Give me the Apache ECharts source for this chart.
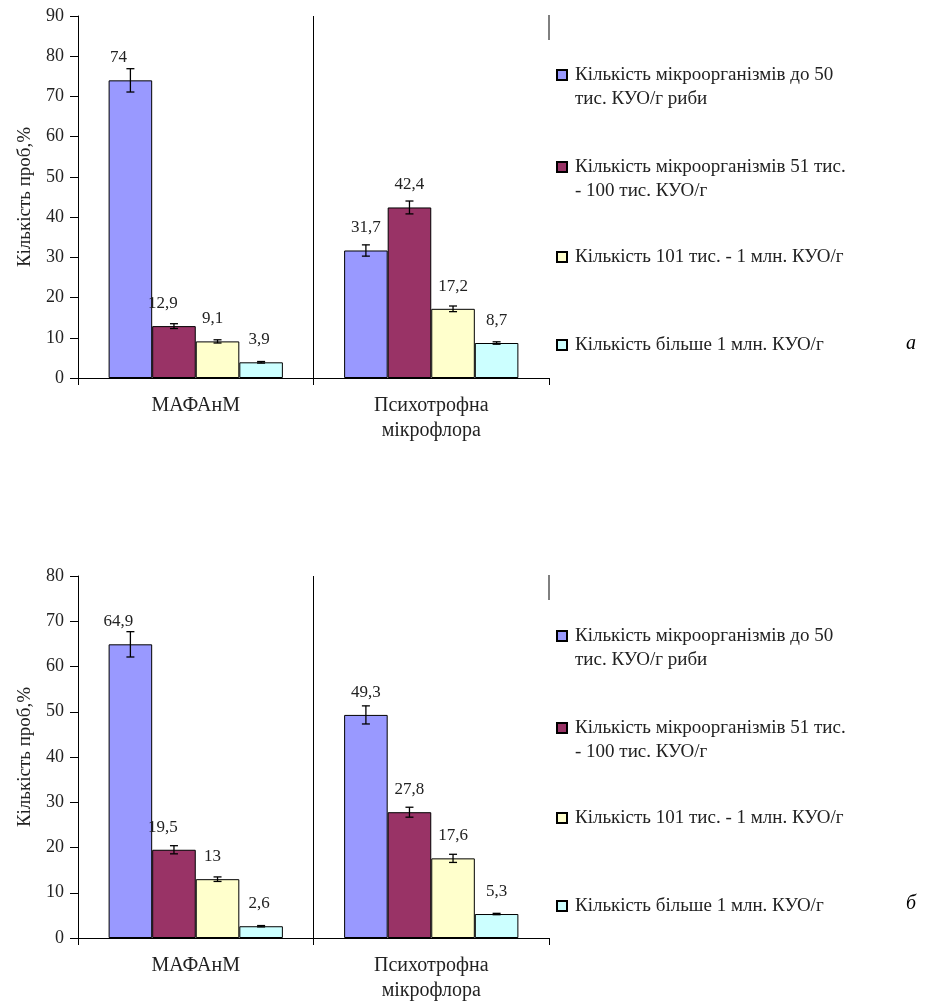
<!DOCTYPE html>
<html>
<head>
<meta charset="utf-8">
<script src="https://cdn.jsdelivr.net/npm/echarts@6/dist/echarts.min.js"></script>
<style>html,body{margin:0;padding:0;background:#fff;}#c{width:926px;height:1003px;}</style>
</head>
<body>
<div id="c"></div>
<script>
const categories = ['МАФАнМ', 'Психотрофна\nмікрофлора'];
const seriesNames = [
  'Кількість мікроорганізмів до 50\nтис. КУО/г риби',
  'Кількість мікроорганізмів 51 тис.\n- 100 тис. КУО/г',
  'Кількість 101 тис. - 1 млн. КУО/г',
  'Кількість більше 1 млн. КУО/г'
];
// chart "а": values per series [МАФАнМ, Психотрофна]
const valuesA = [[74, 31.7], [12.9, 42.4], [9.1, 17.2], [3.9, 8.7]];
const errorsA = [[2.9, 1.4], [0.6, 1.6], [0.4, 0.7], [0.2, 0.3]];
// chart "б"
const valuesB = [[64.9, 49.3], [19.5, 27.8], [13, 17.6], [2.6, 5.3]];
const errorsB = [[2.8, 2.0], [0.9, 1.1], [0.5, 0.9], [0.15, 0.15]];
const yMaxA = 90, yMaxB = 80, yStep = 10;
const yAxisName = 'Кількість проб,%';
const panelLetters = ['а', 'б'];

const colors = ['#9999FF', '#993366', '#FFFFCC', '#CCFFFF'];
const FONT = '"Liberation Serif", "Times New Roman", serif';
const TXT = '#222';
const catGap = 0.26;
const labelShift = [[-12, 0], [-11, 0], [-5, 0], [-2, 0]];

function fmt(v) { return String(v).replace('.', ','); }

const grids = [
  { left: 78, right: 377, top: 16, bottom: 625 },
  { left: 78, right: 377, top: 576, bottom: 65 }
];

function makeAxes(gi, max) {
  return {
    x: {
      type: 'category', gridIndex: gi, data: categories,
      axisLine: { lineStyle: { color: '#000', width: 1 } },
      axisTick: { show: true, length: 7, lineStyle: { color: '#000' } },
      axisLabel: { color: TXT, fontFamily: FONT, fontSize: 20, lineHeight: 25, margin: 15 },
      splitLine: { show: true, showMinLine: false, showMaxLine: false, lineStyle: { color: '#000', width: 1 } }
    },
    y: {
      type: 'value', gridIndex: gi, min: 0, max: max, interval: yStep,
      name: yAxisName, nameLocation: 'middle', nameGap: 43,
      nameTextStyle: { color: TXT, fontFamily: FONT, fontSize: 19 },
      axisLine: { show: true, lineStyle: { color: '#000', width: 1 } },
      axisTick: { show: true, length: 8, lineStyle: { color: '#000' } },
      axisLabel: { color: TXT, fontFamily: FONT, fontSize: 18, margin: 14 },
      splitLine: { show: false }
    }
  };
}

const axA = makeAxes(0, yMaxA), axB = makeAxes(1, yMaxB);
const series = [];

function addPanel(gi, values, errors) {
  values.forEach(function (vals, i) {
    series.push({
      type: 'bar', name: seriesNames[i], xAxisIndex: gi, yAxisIndex: gi,
      barGap: 0, barCategoryGap: (catGap * 100) + '%',
      itemStyle: { color: colors[i], borderColor: '#000', borderWidth: 1 },
      label: {
        show: true, position: 'top', distance: 14, color: TXT, fontFamily: FONT, fontSize: 17,
        formatter: function (p) { return fmt(p.value); }
      },
      data: vals.map(function (v, j) {
        return { value: v, label: { offset: [labelShift[i][j], 0] } };
      }),
      z: 2
    });
  });
  values.forEach(function (vals, i) {
    series.push({
      type: 'custom', name: seriesNames[i], xAxisIndex: gi, yAxisIndex: gi,
      encode: { x: 0, y: 1 }, z: 5, silent: true,
      data: vals.map(function (v, j) { return [j, v, errors[i][j]]; }),
      renderItem: function (params, api) {
        const cat = api.value(0), v = api.value(1), e = api.value(2);
        const bandW = api.size([1, 0])[0];
        const barW = bandW * (1 - catGap) / 4;
        const cx = api.coord([cat, v])[0] + (i - 1.5) * barW;
        const yt = api.coord([cat, v + e])[1];
        const yb = api.coord([cat, v - e])[1];
        const cap = 4;
        const st = { stroke: '#000', lineWidth: 1.3 };
        return {
          type: 'group', children: [
            { type: 'line', shape: { x1: cx, y1: yt, x2: cx, y2: yb }, style: st },
            { type: 'line', shape: { x1: cx - cap, y1: yt, x2: cx + cap, y2: yt }, style: st },
            { type: 'line', shape: { x1: cx - cap, y1: yb, x2: cx + cap, y2: yb }, style: st }
          ]
        };
      }
    });
  });
}
addPanel(0, valuesA, errorsA);
addPanel(1, valuesB, errorsB);

// legends: first-line centres of each item
const legendCentersA = [75, 167, 257, 345];
const legendCentersB = [636, 728, 818, 906];
const L = 24;
const legends = [];
[legendCentersA, legendCentersB].forEach(function (centers) {
  centers.forEach(function (c, i) {
    const twoLine = seriesNames[i].indexOf('\n') >= 0;
    legends.push({
      data: [seriesNames[i]], left: 551, top: twoLine ? c - 1.5 * L - 5 : c - L / 2 - 5,
      orient: 'vertical', icon: 'rect', itemWidth: 10, itemHeight: 10, itemGap: 0,
      selectedMode: false,
      formatter: function (name) { return twoLine ? '\n' + name : name; },
      textStyle: {
        color: TXT, fontFamily: FONT, fontSize: 19, lineHeight: L,
        padding: [0, 0, 0, 3]
      }
    });
  });
});

const option = {
  backgroundColor: '#fff',
  animation: false,
  grid: grids,
  xAxis: [axA.x, axB.x],
  yAxis: [axA.y, axB.y],
  legend: legends,
  series: series,
  graphic: [
    { type: 'line', shape: { x1: 549, y1: 15, x2: 549, y2: 40 }, style: { stroke: '#000', lineWidth: 1 } },
    { type: 'line', shape: { x1: 549, y1: 575, x2: 549, y2: 600 }, style: { stroke: '#000', lineWidth: 1 } },
    { type: 'text', left: 906, top: 334, style: { text: panelLetters[0], font: 'italic 20px ' + FONT, fill: '#000' } },
    { type: 'text', left: 906, top: 894, style: { text: panelLetters[1], font: 'italic 20px ' + FONT, fill: '#000' } }
  ]
};
const chart = echarts.init(document.getElementById('c'), null, { renderer: 'canvas' });
chart.setOption(option);
</script>
</body>
</html>
